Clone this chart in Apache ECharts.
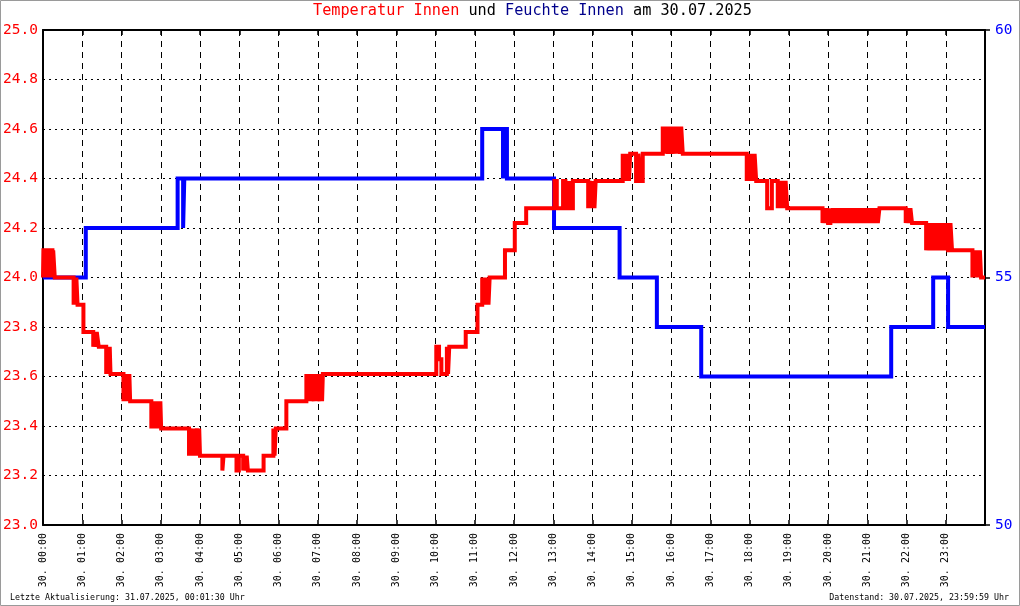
<!DOCTYPE html>
<html><head><meta charset="utf-8">
<script src="https://cdn.jsdelivr.net/npm/echarts@6/dist/echarts.min.js"></script>
<style>html,body{margin:0;padding:0;background:#fff}#c{width:1020px;height:606px}</style>
</head><body><div id="c"></div>
<script>
// ---- data ----
const hourLabels = ['30. 00:00','30. 01:00','30. 02:00','30. 03:00','30. 04:00','30. 05:00','30. 06:00','30. 07:00',
  '30. 08:00','30. 09:00','30. 10:00','30. 11:00','30. 12:00','30. 13:00','30. 14:00','30. 15:00','30. 16:00',
  '30. 17:00','30. 18:00','30. 19:00','30. 20:00','30. 21:00','30. 22:00','30. 23:00'];

// Feuchte Innen [hour of day, %]
const humData = [
  [0,55],[1.09,56],[3.43,57],[3.57,56],[3.60,57],[11.19,58],[11.72,57],[11.76,58],[11.82,57],
  [13.02,56],[14.69,55],[15.64,54],[16.77,53],[21.61,54],[22.68,55],[23.06,54],[24,54]
];

// Temperatur Innen [hour of day, °C]
const tempData = [
  [0.00,24.00],[0.01,24.11],[0.10,24.00],[0.12,24.11],[0.16,24.00],[0.18,24.11],[0.24,24.00],[0.26,24.11],[0.30,24.00],
  [0.78,23.89],[0.80,24.00],[0.83,23.89],[0.85,24.00],[0.88,23.89],
  [1.03,23.78],
  [1.28,23.72],[1.31,23.78],[1.35,23.72],[1.37,23.78],[1.42,23.72],
  [1.61,23.61],[1.64,23.72],[1.67,23.61],[1.70,23.72],[1.72,23.61],
  [2.05,23.50],[2.08,23.61],[2.12,23.50],[2.15,23.61],[2.18,23.50],[2.20,23.61],[2.22,23.50],
  [2.76,23.39],[2.79,23.50],[2.83,23.39],[2.86,23.50],[2.90,23.39],[2.93,23.50],[2.97,23.39],[2.99,23.50],[3.01,23.39],
  [3.72,23.28],[3.75,23.39],[3.80,23.28],[3.83,23.39],[3.88,23.28],[3.92,23.39],[3.96,23.28],[3.98,23.39],[4.00,23.28],
  [4.57,23.22],[4.60,23.28],
  [4.93,23.22],[4.99,23.28],[5.10,23.22],[5.13,23.28],[5.16,23.22],[5.19,23.28],[5.22,23.22],
  [5.62,23.28],
  [5.87,23.39],[5.90,23.28],[5.93,23.39],
  [6.20,23.50],
  [6.71,23.61],[6.74,23.50],[6.78,23.61],[6.81,23.50],[6.85,23.61],[6.90,23.50],[6.93,23.61],[6.97,23.50],[7.00,23.61],[7.05,23.50],[7.09,23.61],[7.11,23.50],[7.13,23.61],
  [10.02,23.72],[10.09,23.67],[10.15,23.61],[10.29,23.72],[10.32,23.61],[10.35,23.72],
  [10.77,23.78],
  [11.07,23.89],[11.19,24.00],[11.22,23.89],[11.26,24.00],[11.29,23.89],[11.32,24.00],[11.35,23.89],[11.38,24.00],
  [11.77,24.11],[12.02,24.22],[12.31,24.28],
  [13.03,24.39],[13.09,24.28],[13.25,24.39],[13.31,24.28],[13.40,24.39],[13.44,24.28],[13.50,24.39],
  [13.89,24.28],[13.93,24.39],[13.98,24.28],[14.02,24.39],[14.05,24.28],[14.08,24.39],
  [14.77,24.50],[14.80,24.39],[14.84,24.50],[14.87,24.39],[14.90,24.50],[14.93,24.39],[14.96,24.50],
  [15.11,24.39],[15.17,24.50],[15.22,24.39],[15.28,24.50],
  [15.79,24.61],[15.83,24.50],[15.87,24.61],[15.92,24.50],[15.95,24.61],[16.00,24.50],[16.03,24.61],[16.08,24.50],
  [16.11,24.61],[16.15,24.50],[16.18,24.61],[16.23,24.50],[16.26,24.61],[16.30,24.50],
  [17.93,24.39],[17.97,24.50],[18.01,24.39],[18.05,24.50],[18.09,24.39],[18.13,24.50],[18.17,24.39],
  [18.45,24.28],[18.57,24.39],
  [18.72,24.28],[18.76,24.39],[18.80,24.28],[18.84,24.39],[18.88,24.28],[18.92,24.39],[18.96,24.28],
  [19.86,24.22],[19.90,24.28],[19.93,24.22],[19.97,24.28],[20.00,24.22],[20.06,24.28],[20.09,24.22],[20.13,24.28],
  [20.17,24.22],[20.21,24.28],[20.25,24.22],[20.30,24.28],[20.33,24.22],[20.38,24.28],[20.42,24.22],[20.46,24.28],
  [20.50,24.22],[20.55,24.28],[20.58,24.22],[20.62,24.28],[20.66,24.22],[20.70,24.28],[20.74,24.22],[20.79,24.28],
  [20.83,24.22],[20.88,24.28],[20.92,24.22],[20.96,24.28],[21.00,24.22],[21.05,24.28],[21.09,24.22],[21.14,24.28],
  [21.18,24.22],[21.23,24.28],[21.27,24.22],[21.31,24.28],
  [21.98,24.22],[22.02,24.28],[22.06,24.22],[22.10,24.28],[22.14,24.22],
  [22.50,24.11],[22.54,24.22],[22.58,24.11],[22.62,24.22],[22.66,24.11],[22.70,24.22],[22.74,24.11],[22.78,24.22],
  [22.82,24.11],[22.86,24.22],[22.90,24.11],[22.94,24.22],[22.98,24.11],[23.02,24.22],[23.06,24.11],[23.12,24.22],[23.16,24.11],
  [23.68,24.00],[23.71,24.11],[23.75,24.00],[23.79,24.11],[23.83,24.00],[23.87,24.11],[23.90,24.00],[24.00,24.00]
];

const titleText = ['Temperatur Innen', 'und', 'Feuchte Innen', 'am 30.07.2025'];
const footerLeft = 'Letzte Aktualisierung: 31.07.2025, 00:01:30 Uhr';
const footerRight = 'Datenstand: 30.07.2025, 23:59:59 Uhr';

// ---- chart ----
const MONO = '"DejaVu Sans Mono", "Liberation Mono", monospace';
const chart = echarts.init(document.getElementById('c'), null, {renderer: 'canvas'});
chart.setOption({
  animation: false,
  backgroundColor: '#ffffff',
  title: [
    {
      text: '{r|' + titleText[0] + '} {k|' + titleText[1] + '} {b|' + titleText[2] + '} {k|' + titleText[3] + '}',
      left: 313, top: 4, padding: 0,
      textStyle: {
        fontFamily: MONO, fontSize: 15.2, fontWeight: 'normal',
        rich: {
          r: {color: '#ff0000', fontFamily: MONO, fontSize: 15.2},
          k: {color: '#000000', fontFamily: MONO, fontSize: 15.2},
          b: {color: '#00008b', fontFamily: MONO, fontSize: 15.2}
        }
      }
    },
    {text: footerLeft, left: 10, top: 594, padding: 0,
     textStyle: {fontFamily: MONO, fontSize: 8.3, fontWeight: 'normal', color: '#000'}},
    {text: footerRight, right: 11, top: 594, padding: 0,
     textStyle: {fontFamily: MONO, fontSize: 8.3, fontWeight: 'normal', color: '#000'}}
  ],
  graphic: [{
    type: 'rect', silent: true, z: 100,
    shape: {x: 0.5, y: 0.5, width: 1019, height: 605},
    style: {fill: 'none', stroke: '#9a9a9a', lineWidth: 1}
  }],
  grid: {left: 43, right: 35, top: 30, bottom: 81, containLabel: false},
  xAxis: [{
    type: 'value', min: 0, max: 24, interval: 1, position: 'bottom',
    axisLine: {show: true, onZero: false, lineStyle: {color: '#000', width: 2}},
    axisTick: {show: true, inside: true, length: 5, lineStyle: {color: '#000', width: 1.5}},
    axisLabel: {rotate: 90, margin: 8, fontFamily: MONO, fontSize: 10, color: '#000',
      showMaxLabel: false, showMinLabel: true,
      formatter: v => (hourLabels[Math.round(v)] !== undefined && v < 24) ? hourLabels[Math.round(v)] : ''},
    splitLine: {show: true, lineStyle: {color: '#000', type: [6, 5], width: 1}}
  }, {
    type: 'value', min: 0, max: 24, interval: 1, position: 'top',
    axisLine: {show: true, onZero: false, lineStyle: {color: '#000', width: 2}},
    axisTick: {show: true, inside: true, length: 5, lineStyle: {color: '#000', width: 1.5}},
    axisLabel: {show: false}, splitLine: {show: false}
  }],
  yAxis: [{
    type: 'value', min: 23, max: 25, interval: 0.2, position: 'left',
    axisLine: {show: true, onZero: false, lineStyle: {color: '#000', width: 2}},
    axisTick: {show: false},
    axisLabel: {color: '#ff0000', fontFamily: MONO, fontSize: 14.5, margin: 5,
      formatter: v => v.toFixed(1)},
    splitLine: {show: true, lineStyle: {color: '#000', type: [2, 4], width: 1}}
  }, {
    type: 'value', min: 50, max: 60, interval: 5, position: 'right',
    axisLine: {show: true, onZero: false, lineStyle: {color: '#000', width: 2}},
    axisTick: {show: true, inside: false, length: 5, lineStyle: {color: '#000', width: 1.5}},
    axisLabel: {color: '#0000ff', fontFamily: MONO, fontSize: 14.5, margin: 10},
    splitLine: {show: false}
  }],
  series: [{
    name: 'Feuchte Innen', type: 'line', xAxisIndex: 0, yAxisIndex: 1,
    data: humData, step: 'end', symbol: 'none', showSymbol: false,
    lineStyle: {color: '#0000ff', width: 4, join: 'miter', miterLimit: 1.5}, z: 3
  }, {
    name: 'Temperatur Innen', type: 'line', xAxisIndex: 0, yAxisIndex: 0,
    data: tempData, step: 'end', symbol: 'none', showSymbol: false,
    lineStyle: {color: '#ff0000', width: 4, join: 'miter', miterLimit: 1.5}, z: 4
  }]
});
</script>
</body></html>
